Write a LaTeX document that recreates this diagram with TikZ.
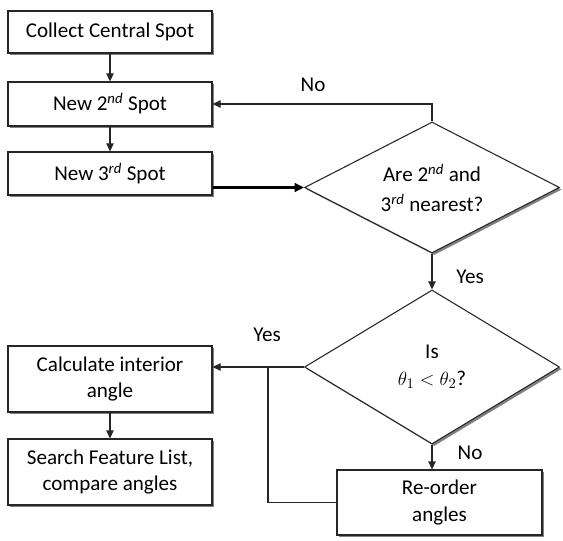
\documentclass[tikz,border=0pt]{standalone}
\usepackage{fontspec}
\setmainfont{Carlito}
\usetikzlibrary{shapes.geometric,shadows,arrows.meta}
\begin{document}
\begin{tikzpicture}[x=0.75pt,y=-0.75pt,
  txt/.style={font=\fontsize{15.8}{20}\selectfont},
  shadowed/.style={drop shadow={shadow xshift=1.6pt,shadow yshift=-1.6pt,fill=black!50,opacity=1}},
  box/.style={draw=black!85,line width=0.8pt,fill=white,inner sep=0pt,align=center,txt,shadowed},
  dec/.style={diamond,aspect=2,draw=black!85,line width=0.8pt,fill=white,inner sep=0pt,align=center,txt,shadowed},
  conn/.style={draw=black!85,line width=0.8pt},
  arr/.style={conn,-{Triangle[length=6pt,width=5.5pt]}},
  lbl/.style={txt}]
\useasboundingbox (0,0) rectangle (563,541);

\node[box,minimum width=153pt,minimum height=31.5pt] (b1) at (110,32) {Collect Central Spot};
\node[box,minimum width=153pt,minimum height=33pt] (b2) at (110,104) {New 2\textsuperscript{\itshape nd} Spot};
\node[box,minimum width=153pt,minimum height=32.25pt] (b3) at (110,173.5) {New 3\textsuperscript{\itshape rd} Spot};
\node[box,minimum width=153pt,minimum height=49.5pt] (b5) at (110,379) {Calculate interior\\angle};
\node[box,minimum width=153pt,minimum height=49.5pt] (b6) at (110,472) {Search Feature List,\\compare angles};
\node[box,minimum width=153.75pt,minimum height=48.75pt] (b4) at (439.5,502.5) {Re-order\\angles};

\node[dec,minimum width=191.25pt,minimum height=98.25pt,font=\fontsize{15.8}{22.5}\selectfont] (d1) at (432,187.5) {Are 2\textsuperscript{\itshape nd} and\\3\textsuperscript{\itshape rd} nearest?};
\node[dec,minimum width=191.25pt,minimum height=115.5pt] (d2) at (432,367) {Is\\$\theta_1 < \theta_2$?};

\draw[arr] (b1) -- (b2);
\draw[arr] (b2) -- (b3);
\draw[draw=black,line width=1.8pt,-{Triangle[length=7pt,width=6.5pt]}] (d1.west -| b3.east) -- (d1.west);
\draw[arr] (d1.north) |- (b2.east);
\draw[arr] (d1.south) -- (d2.north);
\draw[arr] (d2.west) -- (d2.west -| b5.east);
\draw[arr] (d2.south) -- (d2.south |- b4.north);
\coordinate (j) at (268,367);
\draw[conn] (b4.west) -| (j);
\draw[arr] (b5) -- (b6);

\node[lbl] (no1) at (313,85) {No};
\node[lbl] (yes1) at (470,277) {Yes};
\node[lbl] (yes2) at (267,335) {Yes};
\node[lbl] (no2) at (470,453) {No};
\end{tikzpicture}
\end{document}
